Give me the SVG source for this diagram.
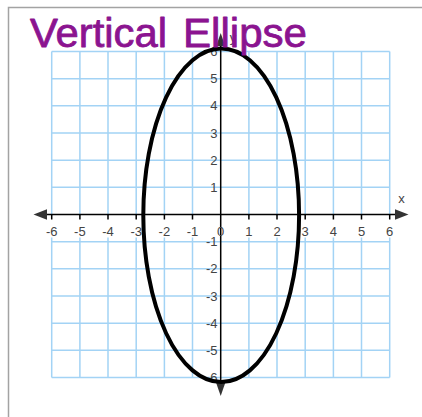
<svg xmlns="http://www.w3.org/2000/svg" width="422" height="417" viewBox="0 0 422 417">
<style>
.grid{stroke:#a3d3f5;stroke-width:1.5;fill:none}
.ax{stroke:#000;stroke-width:1.5;fill:none}
.lbl{font-family:"Liberation Sans",Arial,sans-serif;font-size:13px;fill:#444}
.xl{text-anchor:middle}
.yl{text-anchor:end}
.hand{font-family:"Liberation Sans",Arial,sans-serif;font-size:40px;fill:#8b1490;stroke:#8b1490;stroke-width:0.8;stroke-linejoin:round}
</style>
<rect x="0" y="0" width="422" height="417" fill="#fff"/>
<path d="M8.5,417 V7.5 H422" fill="none" stroke="#a3a3a3" stroke-width="1.5"/>
<g id="grid" class="grid">
<path d="M51.7,51.5V377.5M79.9,51.5V377.5M108,51.5V377.5M136.2,51.5V377.5M164.4,51.5V377.5M192.5,51.5V377.5M248.9,51.5V377.5M277,51.5V377.5M305.2,51.5V377.5M333.4,51.5V377.5M361.5,51.5V377.5M389.7,51.5V377.5"/>
<path d="M51.7,51.5H389.7M51.7,78.7H389.7M51.7,105.8H389.7M51.7,133H389.7M51.7,160.2H389.7M51.7,187.3H389.7M51.7,241.7H389.7M51.7,268.8H389.7M51.7,296H389.7M51.7,323.2H389.7M51.7,350.3H389.7M51.7,377.5H389.7"/>
</g>
<rect x="40" y="215.5" width="360" height="22" fill="#fff"/>
<g id="axes">
<path class="ax" d="M44,214.5H398M220.7,43V386"/>
<path class="ax" d="M51.7,214.5v5M79.9,214.5v5M108,214.5v5M136.2,214.5v5M164.4,214.5v5M192.5,214.5v5M248.9,214.5v5M277,214.5v5M305.2,214.5v5M333.4,214.5v5M361.5,214.5v5M389.7,214.5v5"/>
<polygon points="33.5,214.5 47,209.3 47,219.7" fill="#333"/>
<polygon points="408.5,214.5 395,209.3 395,219.7" fill="#333"/>
<polygon points="220.7,33 216.2,46 225.2,46" fill="#333"/>
<polygon points="220.7,396 216.2,383 225.2,383" fill="#333"/>
</g>
<g id="xlabels" class="lbl xl">
<text x="51.7" y="236">-6</text><text x="79.9" y="236">-5</text><text x="108" y="236">-4</text><text x="136.2" y="236">-3</text><text x="164.4" y="236">-2</text><text x="192.5" y="236">-1</text><text x="220.7" y="236">0</text><text x="248.9" y="236">1</text><text x="277" y="236">2</text><text x="305.2" y="236">3</text><text x="333.4" y="236">4</text><text x="361.5" y="236">5</text><text x="389.7" y="236">6</text>
<text x="401.5" y="203">x</text>
<text x="233" y="42">y</text>
</g>
<g id="ylabels" class="lbl yl">
<text x="217.5" y="56">6</text><text x="217.5" y="83.2">5</text><text x="217.5" y="110.3">4</text><text x="217.5" y="137.5">3</text><text x="217.5" y="164.7">2</text><text x="217.5" y="191.8">1</text><text x="217.5" y="246.2">-1</text><text x="217.5" y="273.3">-2</text><text x="217.5" y="300.5">-3</text><text x="217.5" y="327.7">-4</text><text x="217.5" y="354.8">-5</text><text x="217.5" y="382">-6</text>
</g>
<g id="ellipse">
<ellipse cx="221.2" cy="215.3" rx="77.9" ry="166.8" fill="none" stroke="#000" stroke-width="4"/>
</g>
<g id="title" class="hand">
<text x="30" y="47" textLength="137" lengthAdjust="spacingAndGlyphs">Vertical</text>
<text x="183" y="47" textLength="124" lengthAdjust="spacingAndGlyphs">Ellipse</text>
</g>
</svg>
